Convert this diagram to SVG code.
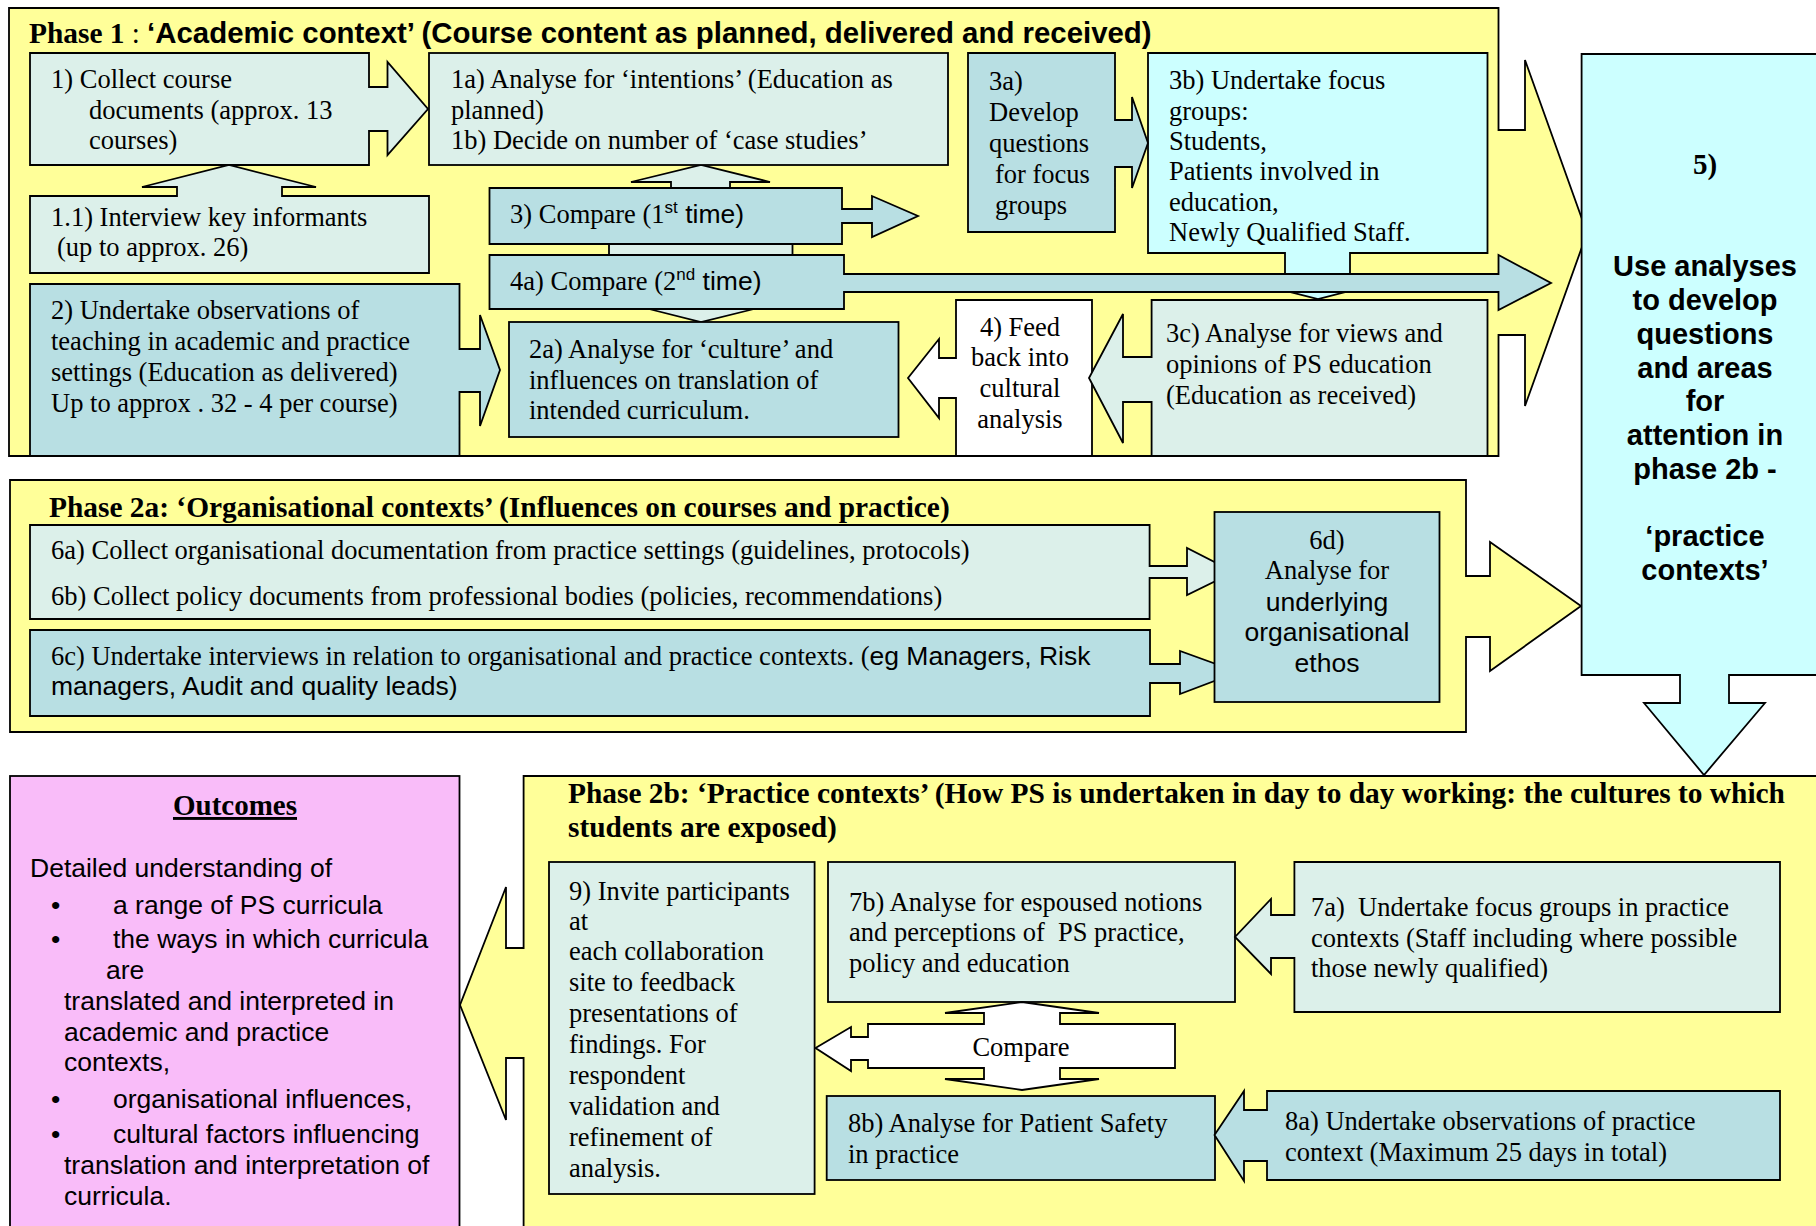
<svg xmlns="http://www.w3.org/2000/svg" width="1816" height="1226" viewBox="0 0 1816 1226">
<style>
.s{stroke:#000;stroke-width:1.8;stroke-linejoin:miter}
.yel{fill:#FFFF99}
.lt{fill:#DCF0EA}
.dk{fill:#B8DFE3}
.cy{fill:#CCFFFF}
.wh{fill:#FFFFFF}
.pk{fill:#F9BCF9}
.t{font-family:"Liberation Serif","Times New Roman",serif;font-size:26.5px;fill:#000}
.a{font-family:"Liberation Sans",Arial,sans-serif;font-size:26.5px;fill:#000}
.tb{font-family:"Liberation Serif","Times New Roman",serif;font-size:29px;font-weight:bold;fill:#000}
.ab{font-family:"Liberation Sans",Arial,sans-serif;font-size:29px;font-weight:bold;fill:#000}
.ttl{font-size:29.4px}
.sup{font-family:"Liberation Sans",Arial,sans-serif;font-size:17px}
.c{text-anchor:middle}
</style>
<rect width="1816" height="1226" fill="#FFFFFF"/>

<g id="phase1">
<path class="s yel" d="M9,8 H1498.5 V130 H1525 V60 L1587,233 L1525,406 V335 H1498.5 V456 H9 Z"/>
<text x="29" y="43"><tspan class="tb ttl">Phase 1</tspan><tspan class="t" style="font-size:29px"> : </tspan><tspan class="ab ttl">‘Academic context’ (Course content as planned, delivered and received)</tspan></text>
</g>
<g id="phase2a">
<path class="s yel" d="M10,480 H1466 V576 H1490 V542 L1581,606 L1490,671 V637 H1466 V732 H10 Z"/>
<text class="tb ttl" x="49" y="517">Phase 2a: ‘Organisational contexts’ (Influences on courses and practice)</text>
</g>
<g id="phase2b">
<path class="s yel" d="M523.6,776 H1830 V1240 H523.6 V1058 H506 V1120 L460,1005 L506,887 V948 H523.6 Z"/>
<text class="tb ttl" x="568" y="803">Phase 2b: ‘Practice contexts’ (How PS is undertaken in day to day working: the cultures to which</text>
<text class="tb ttl" x="568" y="837">students are exposed)</text>
</g>

<g id="connectors">
<path class="s lt" d="M671,189 V182 H631 L701,165 L770,182 H730 V189 Z"/>
<rect class="s lt" x="609" y="243" width="183.5" height="13"/>
<path class="s lt" d="M649,309 L701,322 L754,309 Z"/>
</g>

<g id="n1">
<path class="s lt" d="M30,53 H369 V87 H387.5 V62 L428,109 L387.5,155 V131 H369 V165 H30 Z"/>
<text class="t" x="51" y="88">1) Collect course</text>
<text class="t" x="89" y="119">documents (approx. 13</text>
<text class="t" x="89" y="149">courses)</text>
</g>
<g id="n1a">
<rect class="s lt" x="429" y="53" width="519" height="112"/>
<text class="t" x="451" y="88">1a) Analyse for ‘intentions’ (Education as</text>
<text class="t" x="451" y="119">planned)</text>
<text class="t" x="451" y="149">1b) Decide on number of ‘case studies’</text>
</g>
<g id="n1_1">
<path class="s lt" d="M30,196 H177 V187 H142 L229,165 L316,187 H282 V196 H429 V273 H30 Z"/>
<text class="t" x="51" y="226">1.1) Interview key informants</text>
<text class="t" x="57" y="256">(up to approx. 26)</text>
</g>
<g id="n2">
<path class="s dk" d="M30,284 H459.5 V349 H480 V315 L500,370 L480,426 V392 H459.5 V456 H30 Z"/>
<text class="t" x="51" y="319">2) Undertake observations of</text>
<text class="t" x="51" y="350">teaching in academic and practice</text>
<text class="t" x="51" y="381">settings (Education as delivered)</text>
<text class="t" x="51" y="412">Up to approx . 32 - 4 per course)</text>
</g>
<g id="n2a">
<rect class="s dk" x="509" y="322" width="389.5" height="115"/>
<text class="t" x="529" y="358">2a) Analyse for ‘culture’ and</text>
<text class="t" x="529" y="389">influences on translation of</text>
<text class="t" x="529" y="419">intended curriculum.</text>
</g>
<g id="n3b">
<path class="s cy" d="M1148,53 H1487.5 V253 H1350 V292 H1346 L1318,299 L1289.5,292 H1285 V253 H1148 Z"/>
<text class="t" x="1169" y="89">3b) Undertake focus</text>
<text class="t" x="1169" y="120">groups:</text>
<text class="t" x="1169" y="150">Students,</text>
<text class="t" x="1169" y="180">Patients involved in</text>
<text class="t" x="1169" y="211">education,</text>
<text class="t" x="1169" y="241">Newly Qualified Staff.</text>
</g>
<g id="n3a">
<path class="s dk" d="M968,53 H1115 V120 H1132 V97 L1148,143 L1132,188 V167 H1115 V232 H968 Z"/>
<text class="t" x="989" y="90">3a)</text>
<text class="t" x="989" y="121">Develop</text>
<text class="t" x="989" y="152">questions</text>
<text class="t" x="995" y="183">for focus</text>
<text class="t" x="995" y="214">groups</text>
</g>
<g id="n3">
<path class="s dk" d="M489.5,188 H842 V209 H872 V196 L918,216 L872,237 V223 H842 V244 H489.5 Z"/>
<text x="510" y="223"><tspan class="t">3) Compare (1</tspan><tspan class="sup" dy="-10">st</tspan><tspan class="a" dy="10"> time)</tspan></text>
</g>
<g id="n4a">
<path class="s dk" d="M489.5,255 H844 V274 H1498.5 V255 L1551,283 L1498.5,310 V292 H844 V309 H489.5 Z"/>
<text x="510" y="290"><tspan class="t">4a) Compare (2</tspan><tspan class="sup" dy="-10">nd</tspan><tspan class="a" dy="10"> time)</tspan></text>
</g>
<g id="n4">
<path class="s wh" d="M956,300 H1092 V456 H956 V398 H939 V418 L908,378 L939,339 V358 H956 Z"/>
<text class="t c" x="1020" y="336">4) Feed</text>
<text class="t c" x="1020" y="366">back into</text>
<text class="t c" x="1020" y="397">cultural</text>
<text class="t c" x="1020" y="428">analysis</text>
</g>
<g id="n3c">
<path class="s lt" d="M1151.6,300 H1487.5 V456 H1151.6 V402 H1123 V443 L1089,378 L1123,314 V357 H1151.6 Z"/>
<text class="t" x="1166" y="342">3c) Analyse for views and</text>
<text class="t" x="1166" y="373">opinions of PS education</text>
<text class="t" x="1166" y="404">(Education as received)</text>
</g>

<g id="n6ab">
<path class="s lt" d="M30,525 H1149.6 V566 H1187 V548 L1234,572 L1187,595 V578 H1149.6 V619 H30 Z"/>
<text class="t" x="51" y="559">6a) Collect organisational documentation from practice settings (guidelines, protocols)</text>
<text class="t" x="51" y="605">6b) Collect policy documents from professional bodies (policies, recommendations)</text>
</g>
<g id="n6c">
<path class="s dk" d="M30,630 H1150 V664 H1180 V651 L1238,672 L1180,694 V683 H1150 V716 H30 Z"/>
<text x="51" y="665"><tspan class="t">6c) Undertake interviews in relation to organisational and practice contexts. (</tspan><tspan class="a">eg Managers, Risk</tspan></text>
<text class="a" x="51" y="695">managers, Audit and quality leads)</text>
</g>
<g id="n6d">
<rect class="s dk" x="1214.5" y="512" width="225" height="190"/>
<text class="t c" x="1327" y="549">6d)</text>
<text class="t c" x="1327" y="579">Analyse for</text>
<text class="a c" x="1327" y="611">underlying</text>
<text class="a c" x="1327" y="641">organisational</text>
<text class="a c" x="1327" y="672">ethos</text>
</g>

<g id="n5">
<path class="s cy" d="M1581.6,54 H1830 V675 H1729 V703 H1765 L1704,775 L1644,703 H1680 V675 H1581.6 Z"/>
<text class="tb c" x="1705" y="174">5)</text>
<text class="ab c" x="1705" y="276">Use analyses</text>
<text class="ab c" x="1705" y="310">to develop</text>
<text class="ab c" x="1705" y="344">questions</text>
<text class="ab c" x="1705" y="378">and areas</text>
<text class="ab c" x="1705" y="411">for</text>
<text class="ab c" x="1705" y="445">attention in</text>
<text class="ab c" x="1705" y="479">phase 2b -</text>
<text class="ab c" x="1705" y="546">‘practice</text>
<text class="ab c" x="1705" y="580">contexts’</text>
</g>

<g id="outcomes">
<rect class="s pk" x="10" y="776" width="449.5" height="470"/>
<text class="tb c" x="235" y="815" style="text-decoration:underline">Outcomes</text>
<text class="a" x="30" y="877">Detailed understanding of</text>
<text class="a" x="51" y="914">•</text>
<text class="a" x="113" y="914">a range of PS curricula</text>
<text class="a" x="51" y="948">•</text>
<text class="a" x="113" y="948">the ways in which curricula</text>
<text class="a" x="106" y="979">are</text>
<text class="a" x="64" y="1010">translated and interpreted in</text>
<text class="a" x="64" y="1041">academic and practice</text>
<text class="a" x="64" y="1071">contexts,</text>
<text class="a" x="51" y="1108">•</text>
<text class="a" x="113" y="1108">organisational influences,</text>
<text class="a" x="51" y="1143">•</text>
<text class="a" x="113" y="1143">cultural factors influencing</text>
<text class="a" x="64" y="1174">translation and interpretation of</text>
<text class="a" x="64" y="1205">curricula.</text>
</g>

<g id="n9">
<rect class="s lt" x="549" y="862" width="265.6" height="332"/>
<text class="t" x="569" y="900">9) Invite participants</text>
<text class="t" x="569" y="930">at</text>
<text class="t" x="569" y="960">each collaboration</text>
<text class="t" x="569" y="991">site to feedback</text>
<text class="t" x="569" y="1022">presentations of</text>
<text class="t" x="569" y="1053">findings. For</text>
<text class="t" x="569" y="1084">respondent</text>
<text class="t" x="569" y="1115">validation and</text>
<text class="t" x="569" y="1146">refinement of</text>
<text class="t" x="569" y="1177">analysis.</text>
</g>
<g id="n7b">
<rect class="s lt" x="828" y="862" width="407" height="140"/>
<text class="t" x="849" y="911">7b) Analyse for espoused notions</text>
<text class="t" x="849" y="941" xml:space="preserve">and perceptions of  PS practice,</text>
<text class="t" x="849" y="972">policy and education</text>
</g>
<g id="n7a">
<path class="s lt" d="M1294.4,862 H1780 V1012 H1294.4 V958 H1271 V974 L1235,937 L1271,899 V915 H1294.4 Z"/>
<text class="t" x="1311" y="916" xml:space="preserve">7a)  Undertake focus groups in practice</text>
<text class="t" x="1311" y="947">contexts (Staff including where possible</text>
<text class="t" x="1311" y="977">those newly qualified)</text>
</g>
<g id="ncompare">
<path class="s wh" d="M868,1024 H984 V1013 H945 L1022,1002 L1099,1013 H1060 V1024 H1175 V1068 H1060 V1079 H1099 L1022,1090 L945,1079 H984 V1068 H868 V1060 H851 V1071 L815.5,1048 L851,1027 V1037 H868 Z"/>
<text class="t c" x="1021" y="1056">Compare</text>
</g>
<g id="n8b">
<rect class="s dk" x="826.7" y="1096" width="388.3" height="84"/>
<text class="t" x="848" y="1132">8b) Analyse for Patient Safety</text>
<text class="t" x="848" y="1163">in practice</text>
</g>
<g id="n8a">
<path class="s dk" d="M1267,1091 H1780 V1180 H1267 V1161 H1244 V1181 L1214.5,1135 L1244,1091 V1110 H1267 Z"/>
<text class="t" x="1285" y="1130">8a) Undertake observations of practice</text>
<text class="t" x="1285" y="1161">context (Maximum 25 days in total)</text>
</g>
</svg>
